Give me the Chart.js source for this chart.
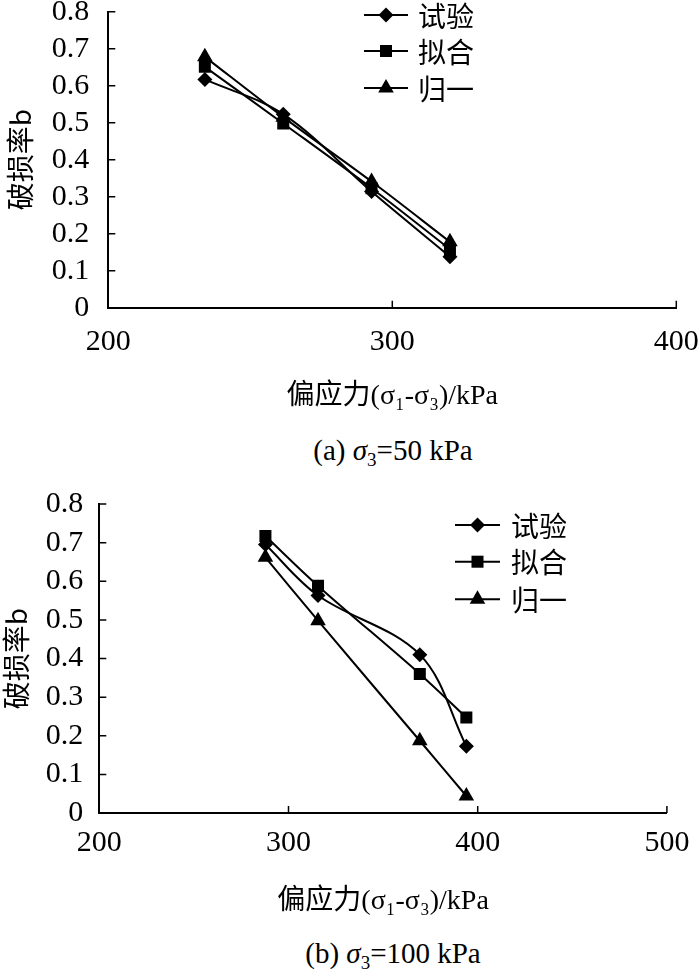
<!DOCTYPE html>
<html>
<head>
<meta charset="utf-8">
<script src="https://cdn.jsdelivr.net/npm/chart.js@4.4.0/dist/chart.umd.min.js"></script>
<style>
  body { margin: 0; background: #fff; width: 700px; height: 969px; position: relative; overflow: hidden;
         font-family: "Liberation Serif", "Noto Sans CJK SC", serif; color: #000; }
  .box { position: absolute; left: 0; }
  .cap { position: absolute; left: 93px; width: 600px; text-align: center; font-size: 29px; line-height: 32px; }
  .cap sub { font-size: 19px; vertical-align: -6px; line-height: 0; }
</style>
</head>
<body>
<div class="box" style="top:0"><canvas id="c1" width="700" height="420"></canvas></div>
<div class="cap" style="top:434px">(a) <i>σ</i><sub>3</sub>=50 kPa</div>
<div class="box" style="top:480px"><canvas id="c2" width="700" height="440"></canvas></div>
<div class="cap" style="top:937px">(b) <i>σ</i><sub>3</sub>=100 kPa</div>

<script>
// datos
const seriesNames = ["试验", "拟合", "归一"];
const markers = ["rectRot", "rect", "triangle"];
const markerSize = [7.5, 8.5, 9];
const yTicks = [0, 0.1, 0.2, 0.3, 0.4, 0.5, 0.6, 0.7, 0.8];
const xTicksA = [200, 300, 400];
const xTicksB = [200, 300, 400, 500];

// (a) sigma3 = 50 kPa
const stressA = [234.0, 261.6, 292.7, 320.3];
const testA = [0.617, 0.523, 0.314, 0.138];
const fitA = [0.651, 0.498, 0.323, 0.158];
const normA = [0.678, 0.515, 0.341, 0.178];

// (b) sigma3 = 100 kPa
const stressB = [287.8, 315.6, 369.4, 394.0];
const testB = [0.695, 0.563, 0.410, 0.173];
const fitB = [0.717, 0.588, 0.360, 0.247];
const normB = [0.662, 0.498, 0.187, 0.044];

const serif = "'Liberation Serif', 'Noto Sans CJK SC', serif";
const cjk = "'Noto Sans CJK SC', 'Liberation Serif', sans-serif";

function drawMarker(ctx, style, r, x, y) {
  ctx.beginPath();
  if (style === "rectRot") {
    ctx.moveTo(x, y - r); ctx.lineTo(x + r, y); ctx.lineTo(x, y + r); ctx.lineTo(x - r, y);
  } else if (style === "rect") {
    const h = r * Math.SQRT1_2;
    ctx.rect(x - h, y - h, 2 * h, 2 * h);
  } else {
    ctx.moveTo(x, y - r);
    ctx.lineTo(x + r * Math.sin(Math.PI * 2 / 3), y - r * Math.cos(Math.PI * 2 / 3));
    ctx.lineTo(x - r * Math.sin(Math.PI * 2 / 3), y - r * Math.cos(Math.PI * 2 / 3));
  }
  ctx.closePath();
  ctx.fill();
}

// leyenda a mano
const sideLegend = {
  id: "sideLegend",
  afterDraw(chart, args, opts) {
    const ctx = chart.ctx;
    ctx.save();
    chart.data.datasets.forEach((ds, i) => {
      const y = opts.rows[i];
      ctx.strokeStyle = "#000";
      ctx.fillStyle = "#000";
      ctx.lineWidth = 2;
      ctx.beginPath();
      ctx.moveTo(opts.x0, y);
      ctx.lineTo(opts.x1, y);
      ctx.stroke();
      drawMarker(ctx, ds.pointStyle, ds.pointRadius, (opts.x0 + opts.x1) / 2, y);
      ctx.font = "28px " + cjk;
      ctx.textBaseline = "middle";
      ctx.textAlign = "left";
      ctx.fillText(ds.label, opts.tx, y + 1);
    });
    ctx.restore();
  }
};

// marcas hacia dentro
const innerTicks = {
  id: "innerTicks",
  afterDraw(chart) {
    const ctx = chart.ctx;
    const xs = chart.scales.x, ys = chart.scales.y;
    const a = chart.chartArea;
    ctx.save();
    ctx.strokeStyle = "#000";
    ctx.lineWidth = 1.5;
    ctx.beginPath();
    xs.ticks.forEach((t, i) => {
      if (i === 0) return;
      const px = xs.getPixelForValue(t.value);
      ctx.moveTo(px, a.bottom);
      ctx.lineTo(px, a.bottom - 7);
    });
    ys.ticks.forEach((t, i) => {
      if (i === 0) return;
      const py = ys.getPixelForValue(t.value);
      ctx.moveTo(a.left, py);
      ctx.lineTo(a.left + 7, py);
    });
    ctx.stroke();
    ctx.restore();
  }
};

function makeChart(id, stress, series, xTicks, L) {
  const datasets = series.map((vals, i) => ({
    label: seriesNames[i],
    data: vals.map((v, k) => ({ x: stress[k], y: v })),
    borderColor: "#000",
    backgroundColor: "#000",
    borderWidth: 2,
    pointStyle: markers[i],
    pointRadius: markerSize[i],
    pointBackgroundColor: "#000",
    pointBorderColor: "#000",
    pointBorderWidth: 0,
    tension: 0.35,
    fill: false
  }));

  const config = {
    type: "line",
    data: { datasets },
    options: {
      responsive: false,
      animation: false,
      events: [],
      layout: { padding: { left: 0, top: L.top, right: L.right, bottom: 0 } },
      plugins: {
        legend: { display: false },
        tooltip: { enabled: false },
        sideLegend: L.legend
      },
      scales: {
        x: {
          type: "linear",
          min: xTicks[0],
          max: xTicks[xTicks.length - 1],
          afterBuildTicks: (s) => { s.ticks = xTicks.map((v) => ({ value: v })); },
          afterFit: (s) => { s.height = L.xHeight; s.paddingLeft = 0; s.paddingRight = 0; },
          grid: { display: false, drawTicks: false },
          border: { display: true, color: "#000", width: 2 },
          ticks: { color: "#000", font: { family: serif, size: 30 }, padding: L.xTickPad, maxRotation: 0, autoSkip: false },
          title: {
            display: true,
            text: "偏应力(σ₁-σ₃)/kPa",
            color: "#000",
            font: { family: serif, size: 28 },
            padding: { top: 0, bottom: L.xTitlePad }
          }
        },
        y: {
          min: yTicks[0],
          max: yTicks[yTicks.length - 1],
          afterBuildTicks: (s) => { s.ticks = yTicks.map((v) => ({ value: v })); },
          afterFit: (s) => { s.width = L.yWidth; s.paddingTop = 0; s.paddingBottom = 0; },
          grid: { display: false, drawTicks: false },
          border: { display: true, color: "#000", width: 2 },
          ticks: {
            color: "#000",
            font: { family: serif, size: 30 },
            padding: L.yTickPad,
            autoSkip: false,
            callback: (v) => (v === 0 ? "0" : v.toFixed(1))
          },
          title: {
            display: true,
            text: "破损率b",
            color: "#000",
            font: { family: cjk, size: 28 },
            padding: { top: L.yTitlePad, bottom: 0 }
          }
        }
      }
    },
    plugins: [sideLegend, innerTicks]
  };
  return new Chart(document.getElementById(id), config);
}

makeChart("c1", stressA, [testA, fitA, normA], xTicksA, {
  top: 11.7, right: 23.7, yWidth: 108.3, xHeight: 112.3,
  xTickPad: 16.8, xTitlePad: 6.2, yTickPad: 19, yTitlePad: 3.2,
  legend: { x0: 364, x1: 408, tx: 418, rows: [15, 51, 88] }
});

makeChart("c2", stressB, [testB, fitB, normB], xTicksB, {
  top: 24, right: 33.1, yWidth: 99.3, xHeight: 107,
  xTickPad: 12, xTitlePad: 1.5, yTickPad: 16, yTitlePad: 0,
  legend: { x0: 455, x1: 500, tx: 511, rows: [45, 81.7, 119.3] }
});
</script>
</body>
</html>
